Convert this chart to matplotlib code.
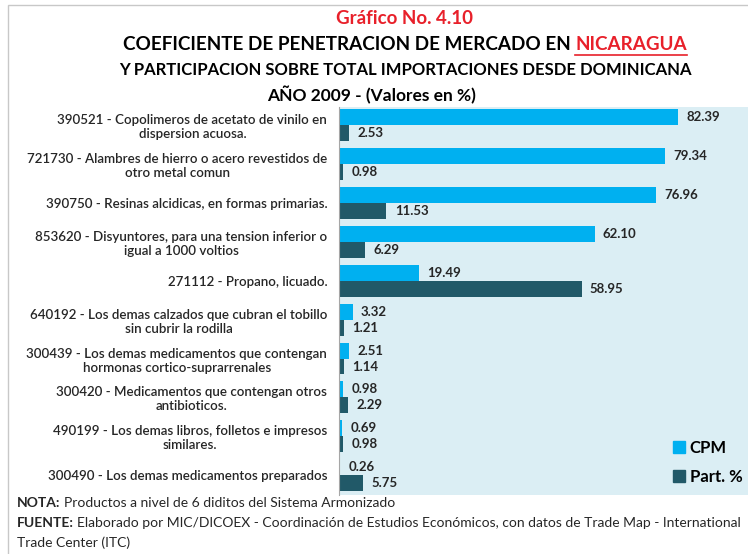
import numpy as np
import matplotlib
matplotlib.use('Agg')
import matplotlib.pyplot as plt
from matplotlib.patches import Rectangle, Patch

plt.rcParams["font.family"] = ["Lato", "DejaVu Sans"]

categorias = [
    "390521 - Copolimeros de acetato de vinilo en\ndispersion acuosa.",
    "721730 - Alambres de hierro o acero revestidos de\notro metal comun",
    "390750 - Resinas alcidicas, en formas primarias.",
    "853620 - Disyuntores, para una tension inferior o\nigual a 1000 voltios",
    "271112 - Propano, licuado.",
    "640192 - Los demas calzados que cubran el tobillo\nsin cubrir la rodilla",
    "300439 - Los demas medicamentos que contengan\nhormonas cortico-suprarrenales",
    "300420 - Medicamentos que contengan otros\nantibioticos.",
    "490199 - Los demas libros, folletos e impresos\nsimilares.",
    "300490 - Los demas medicamentos preparados",
]
cpm = [82.39, 79.34, 76.96, 62.10, 19.49, 3.32, 2.51, 0.98, 0.69, 0.26]
part = [2.53, 0.98, 11.53, 6.29, 58.95, 1.21, 1.14, 2.29, 0.98, 5.75]
series_names = ["CPM", "Part. %"]

c_cpm = '#00B0F0'
c_part = '#215968'
bg = '#DBEEF4'
txt = '#262626'
red = '#E8202A'

fig = plt.figure(figsize=(7.48, 5.54), dpi=100)
ax = fig.add_axes([339/748, 1-495/554, 1-339/748, (495-107)/554])
ax.set_facecolor(bg)

y = np.arange(len(categorias))
h = 0.41
ax.barh(y - 0.205, cpm, height=h, color=c_cpm, label=series_names[0])
ax.barh(y + 0.205, part, height=h, color=c_part, label=series_names[1])

# etiquetas de valores
for yi, v in zip(y, cpm):
    ax.annotate('%.2f' % v, (v, yi - 0.205), xytext=(6, 0), textcoords='offset points',
                va='center', ha='left', fontsize=9.5, fontweight='bold', color=txt)
for yi, v in zip(y, part):
    ax.annotate('%.2f' % v, (v, yi + 0.205), xytext=(6, 0), textcoords='offset points',
                va='center', ha='left', fontsize=9.5, fontweight='bold', color=txt)

ax.set_xlim(0, 99.4)
ax.set_ylim(9.51, -0.47)
ax.set_xticks([])
ax.set_yticks(y)
ax.set_yticklabels(categorias, fontsize=9.6, color=txt, fontweight='semibold')
for lab in ax.get_yticklabels():
    lab.set_multialignment('center')
ax.tick_params(axis='y', length=0, pad=8.5)
for s in ['top', 'right', 'bottom']:
    ax.spines[s].set_visible(False)
ax.spines['left'].set_color('#A6A6A6')
ax.spines['left'].set_linewidth(0.8)

handles = [Patch(color=c_cpm), Patch(color=c_part)]
fig.legend(handles, series_names, loc='center left', bbox_to_anchor=(673/748, 1-462.5/554),
           frameon=False, borderpad=0, borderaxespad=0, handlelength=0.7, handleheight=0.7,
           handletextpad=0.3, labelspacing=0.8, prop={'size': 12, 'weight': 'bold'})

# titulos
fig.text(404/748, 1-18/554, "Gráfico No. 4.10", ha='center', va='center', fontsize=13.5,
         fontweight='bold', color=red)
r = fig.canvas.get_renderer()
t1 = fig.text(0, 0, "COEFICIENTE DE PENETRACION DE MERCADO EN ", fontsize=13.6,
              fontweight='bold', color='black', va='center')
t2 = fig.text(0, 0, "NICARAGUA", fontsize=13.6, fontweight='bold', color=red, va='center')
w1 = t1.get_window_extent(r).width
w2 = t2.get_window_extent(r).width
x0 = 405 - (w1 + w2) / 2
yl = 554 - 45
t1.set_position((x0/748, yl/554))
t2.set_position(((x0 + w1)/748, yl/554))
fig.add_artist(plt.Line2D([(x0 + w1)/748, (x0 + w1 + w2)/748], [(yl - 10)/554, (yl - 10)/554],
                          color=red, lw=1.2))
fig.text(405/748, 1-70/554, "Y PARTICIPACION SOBRE TOTAL IMPORTACIONES DESDE DOMINICANA",
         ha='center', va='center', fontsize=12, fontweight='bold', color='black')
fig.text(372/748, 1-95/554, "AÑO 2009 - (Valores en %)", ha='center', va='center',
         fontsize=12.5, fontweight='bold', color='black')

# notas al pie
def rich(x, yy, bold, rest):
    a = fig.text(x/748, 1-yy/554, bold, fontsize=10, fontweight='bold', color=txt, va='center')
    wb = a.get_window_extent(r).width
    fig.text((x + wb + 3)/748, 1-yy/554, rest, fontsize=10, color=txt, va='center')

rich(17, 503, "NOTA:", "Productos a nivel de 6 diditos del Sistema Armonizado")
rich(17, 523, "FUENTE:", "Elaborado por MIC/DICOEX - Coordinación de Estudios Económicos, con datos de Trade Map - International")
fig.text(17/748, 1-543/554, "Trade Center (ITC)", fontsize=10, color=txt, va='center')

fig.add_artist(Rectangle((8/748, -0.01), 1.0, 1 - 5/554 + 0.01, transform=fig.transFigure,
                         fill=False, edgecolor='#C8C8C8', lw=1))

fig.savefig('out.png', dpi=100)
